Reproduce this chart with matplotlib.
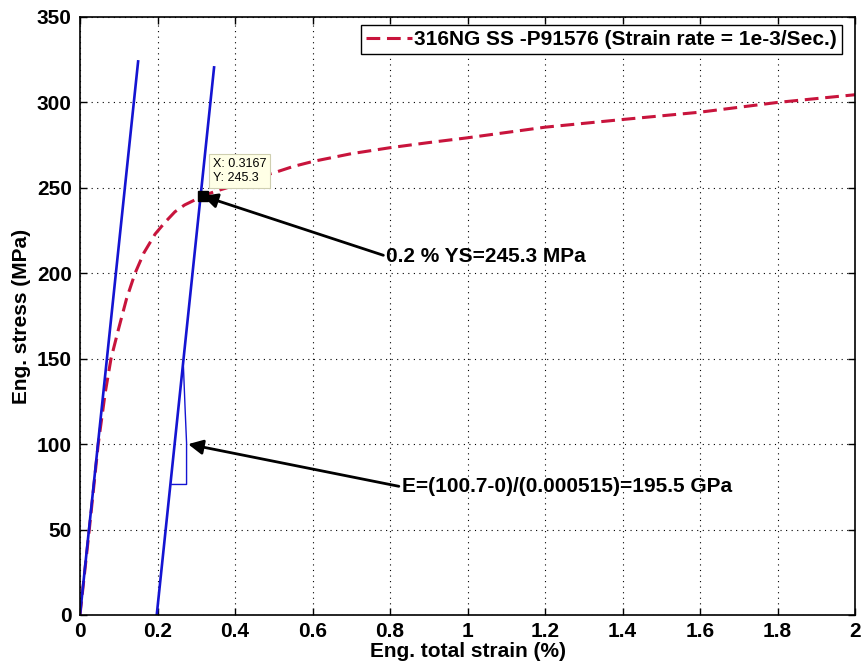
import numpy as np
import matplotlib.pyplot as plt

plt.rcParams['font.family'] = ['Liberation Sans', 'DejaVu Sans']
plt.rcParams['font.weight'] = 'bold'

strain = [0, 0.024, 0.047, 0.065, 0.08, 0.099, 0.12, 0.142, 0.165, 0.194,
          0.22, 0.245, 0.27, 0.297, 0.3167, 0.35, 0.40, 0.45, 0.503, 0.55,
          0.602, 0.70, 0.80, 0.90, 1.0, 1.2, 1.4, 1.6, 1.8, 2.0]
stress = [0, 50, 100, 130, 150, 167, 185, 200, 212, 223,
          230, 236, 240, 243, 245.3, 248, 251.5, 255.5, 259, 262.5,
          265.5, 270, 273.5, 276.5, 279.3, 285.5, 290, 294.3, 300, 304.5]

# elastic line and 0.2 % offset line
elastic_x = [0, 0.150]
elastic_y = [0, 324]
offset_x = [0.198, 0.346]
offset_y = [0, 320.5]

# slope triangle
tri_x = [0.237, 0.275, 0.275, 0.271, 0.267]
tri_y = [76.4, 76.4, 100.7, 122, 145]

ys_point = (0.3167, 245.3)
e_point = (0.279, 100)

fig = plt.figure(figsize=(8.67, 6.71), dpi=100)
ax = fig.add_axes([80/867, 56/671, 775/867, 598/671])

red, = ax.plot(strain, stress, color='#c8143c', lw=2.2, dashes=(4.5, 2.2),
               label='316NG SS -P91576 (Strain rate = 1e-3/Sec.)')
ax.plot(elastic_x, elastic_y, color='#1414d2', lw=1.9)
ax.plot(offset_x, offset_y, color='#1414d2', lw=1.9)
ax.plot(tri_x, tri_y, color='#1414d2', lw=1.0)
ax.plot(*ys_point, marker='s', color='k', ms=7)

# data tip
ax.text(0.343, 252, 'X: 0.3167\nY: 245.3', fontsize=9, fontweight='normal',
        va='bottom', ha='left', linespacing=1.3,
        bbox=dict(boxstyle='square,pad=0.3', fc='#ffffe6', ec='#cfcfb0', lw=0.8))

arrow = dict(arrowstyle='-|>', lw=2, color='k', mutation_scale=22,
             shrinkA=0, shrinkB=0, relpos=(0, 0.5))
ax.annotate('0.2 % YS=245.3 MPa', xy=ys_point, xytext=(0.79, 210),
            fontsize=15, va='center', ha='left', arrowprops=arrow)
ax.annotate('E=(100.7-0)/(0.000515)=195.5 GPa', xy=e_point, xytext=(0.83, 75),
            fontsize=15, va='center', ha='left', arrowprops=arrow)

ax.set_xlim(0, 2)
ax.set_ylim(0, 350)
ax.set_xticks(np.arange(0, 2.01, 0.2))
ax.set_xticklabels(['0', '0.2', '0.4', '0.6', '0.8', '1', '1.2', '1.4', '1.6', '1.8', '2'])
ax.set_yticks(np.arange(0, 351, 50))
ax.tick_params(direction='in', top=True, right=True, labelsize=15, length=5, width=1)
ax.tick_params(axis='y', pad=6)
ax.tick_params(axis='x', pad=5)
ax.grid(True, color='k', ls=(0, (1, 4)), lw=0.8)
for s in ax.spines.values():
    s.set_linewidth(1.2)

ax.set_xlabel('Eng. total strain (%)', fontsize=15, fontweight='bold', labelpad=1)
ax.set_ylabel('Eng. stress (MPa)', fontsize=15, fontweight='bold', labelpad=4)

leg = ax.legend(handles=[red], loc='upper right', fontsize=15, handlelength=2.2,
                handletextpad=0.1, fancybox=False, edgecolor='k',
                bbox_to_anchor=((842 - 80) / 775, (615 - 25) / 598),
                borderaxespad=0, borderpad=0.25, framealpha=1)
leg.get_frame().set_linewidth(1.0)

fig.savefig('out.png', dpi=100)
